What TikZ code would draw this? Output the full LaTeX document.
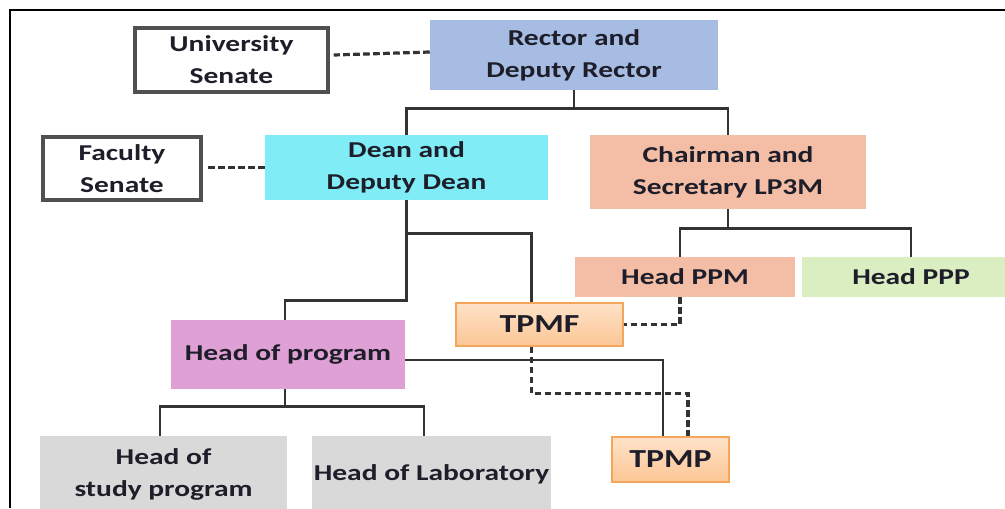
\documentclass[tikz,border=0pt]{standalone}
\usepackage{fontspec}
\setmainfont{Carlito}[FakeStretch=1.3]
\usepackage{tikz}

\definecolor{rectorblue}{HTML}{A6BCE3}
\definecolor{deancyan}{HTML}{80ECF6}
\definecolor{lpsalmon}{HTML}{F3BDA6}
\definecolor{pppgreen}{HTML}{DAEEC2}
\definecolor{progpink}{HTML}{DFA0D5}
\definecolor{headgray}{HTML}{D9D9D9}
\definecolor{tptop}{HTML}{FEE2C8}
\definecolor{tpbottom}{HTML}{FCC695}
\definecolor{tpedge}{HTML}{F5A65B}
\definecolor{senateedge}{HTML}{505050}
\definecolor{linedark}{HTML}{333333}
\definecolor{textdark}{HTML}{1E1E2A}

\def\PX{0.75pt}

\tikzset{
  unit/.style={inner sep=0pt, align=center, text=textdark,
    font=\fontsize{17}{24}\selectfont\bfseries},
  sz/.style 2 args={minimum width=#1*\PX, minimum height=#2*\PX},
  senate/.style={unit, draw=senateedge, line width=2.6pt, fill=white},
  tpm/.style={unit, draw=tpedge, line width=1.2pt, top color=tptop,
    bottom color=tpbottom, font=\fontsize{19.5}{24}\selectfont\bfseries},
  link/.style={draw=linedark, line width=2.2pt},
  dashlink/.style={link, line width=2.4pt, dash pattern=on 5pt off 2.5pt},
}

\begin{document}
\begin{tikzpicture}[x=\PX, y=-\PX]
  \useasboundingbox (0,0) rectangle (1005,508);
  \draw[line width=1.5pt] (10,508) -- (10,10) -- (1005,10);

  % boxes
  \node[unit, fill=rectorblue, sz={288}{70}] (rector) at (574,55) {Rector and\\Deputy Rector};
  \node[senate, sz={193}{64}] (usenate) at (231.5,60) {University\\Senate};
  \node[unit, fill=deancyan, sz={283}{65}] (dean) at (406.5,167.5) {Dean and\\Deputy Dean};
  \node[senate, sz={158}{63}] (fsenate) at (122,168.5) {Faculty\\Senate};
  \node[unit, fill=lpsalmon, sz={276}{74}] (chair) at (728,172) {Chairman and\\Secretary LP3M};
  \node[unit, fill=lpsalmon, sz={220}{40}] (ppm) at (685,277) {Head PPM};
  \node[unit, fill=pppgreen, sz={218}{40}] (ppp) at (911,277) {Head PPP};
  \node[tpm, sz={167}{43}] (tpmf) at (539.5,324.5) {TPMF};
  \node[unit, fill=progpink, sz={234}{69}] (hprog) at (288,354.5) {Head of program};
  \node[unit, fill=headgray, sz={247}{76}] (hstudy) at (163.5,474) {Head of\\study program};
  \node[unit, fill=headgray, sz={239}{76}] (hlab) at (431.5,474) {Head of Laboratory};
  \node[tpm, sz={117}{45}] (tpmp) at (670.5,459.5) {TPMP};

  % solid lines
  \draw[link] (rector.south) -- ++(0,18) coordinate (rj) -| (dean.north);
  \draw[link] (rj) -| (chair.north);
  \draw[link] (chair.south) -- ++(0,19) coordinate (cj) -| ([xshift=-5*\PX]ppm.north);
  \draw[link] (cj) -| (ppp.north);
  \draw[link] (dean.south) -- ++(0,33) coordinate (dj) -| ([xshift=-8*\PX]tpmf.north);
  \draw[link] (dj) -- ++(0,67) -| ([xshift=-3*\PX]hprog.north);
  \draw[link] ([yshift=-5.5*\PX]hprog.east) -| ([xshift=-7.5*\PX]tpmp.north);
  \draw[link] ([xshift=-3*\PX]hprog.south) -- ++(0,17) coordinate (hj) -| ([xshift=-3.5*\PX]hstudy.north);
  \draw[link] (hj) -| ([xshift=-7.5*\PX]hlab.north);

  % dashed lines
  \draw[dashlink] ([yshift=3*\PX]rector.west) -- ([xshift=4*\PX]rector.west -| usenate.east);
  \draw[dashlink] (dean.west) -- ([xshift=4*\PX]dean.west -| fsenate.east);
  \draw[dashlink] ([xshift=-5*\PX]ppm.south) |- (tpmf.east);
  \draw[dashlink] ([xshift=-8*\PX]tpmf.south) -- ++(0,47) -| ([xshift=17.5*\PX]tpmp.north);
\end{tikzpicture}
\end{document}
